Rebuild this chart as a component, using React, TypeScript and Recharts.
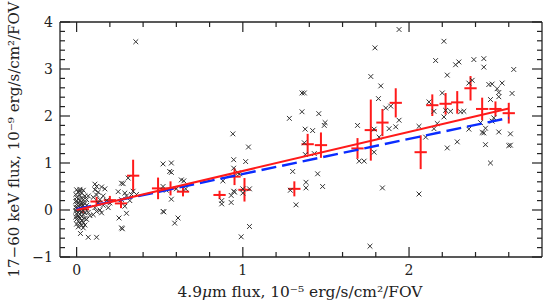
import { ScatterChart, Scatter, XAxis, YAxis, ErrorBar } from "recharts";

// individual fields (black crosses)
const fields: [number, number][] = [
  [0.0, 0.43], [0.02, 0.44], [0.04, 0.42], [0.01, 0.38], [0.03, 0.36], [-0.005, 0.33], [0.02, 0.31], [0.05, 0.3],
  [0.0, 0.27], [0.03, 0.26], [0.01, 0.23], [0.04, 0.22], [0.02, 0.2], [-0.005, 0.18], [0.03, 0.17], [0.01, 0.15],
  [0.05, 0.14], [0.0, 0.12], [0.02, 0.11], [0.04, 0.1], [0.01, 0.08], [0.03, 0.07], [-0.005, 0.06], [0.02, 0.05],
  [0.05, 0.04], [0.0, 0.03], [0.03, 0.02], [0.01, 0.01], [0.04, 0.0], [0.02, -0.01], [-0.005, -0.02], [0.03, -0.03],
  [0.01, -0.05], [0.05, -0.06], [0.0, -0.08], [0.02, -0.09], [0.04, -0.1], [0.01, -0.12], [0.03, -0.14], [-0.005, -0.15],
  [0.02, -0.17], [0.05, -0.18], [0.0, -0.2], [0.03, -0.22], [0.01, -0.24], [0.04, -0.26], [0.02, -0.28], [0.0, -0.3],
  [0.03, -0.33], [0.01, -0.36], [0.04, -0.38], [0.06, 0.22], [0.07, -0.05], [0.06, 0.1], [0.07, 0.3], [0.06, -0.2],
  [0.08, -0.12], [0.02, 0.4], [0.0, 0.2], [0.01, -0.16], [0.03, 0.12], [0.05, -0.32], [0.023, -0.5],
  [0.07, -0.58], [0.12, -0.58], [0.11, 0.55], [0.12, 0.5], [0.15, 0.49], [0.17, 0.45], [0.11, 0.43], [0.13, 0.38],
  [0.12, 0.32], [0.16, 0.3], [0.1, 0.27], [0.14, 0.22], [0.18, 0.2], [0.13, 0.15], [0.16, 0.1], [0.11, 0.05],
  [0.14, 0.0], [0.12, -0.03], [0.15, -0.06], [0.1, -0.1], [0.19, 0.05], [0.2, 0.15],
  [0.27, 0.57], [0.28, 0.56], [0.31, 0.68], [0.25, 0.39], [0.29, 0.36], [0.3, 0.3], [0.33, 0.33], [0.36, 0.33],
  [0.27, 0.22], [0.29, 0.08], [0.32, 0.2], [0.255, -0.17], [0.27, -0.38], [0.275, -0.4], [0.3, -0.07], [0.356, 3.58],
  [0.34, 0.4],
  [0.52, 0.98], [0.57, 1.0], [0.56, 0.82], [0.57, 0.8], [0.52, -0.03], [0.525, -0.04], [0.57, 0.23], [0.59, -0.28],
  [0.61, -0.17], [0.63, 0.64], [0.645, 0.62], [0.656, 0.45], [0.52, 0.5], [0.6, 0.45], [0.54, 0.42],
  [0.873, 0.2], [0.873, 0.13], [0.88, 0.62], [0.93, 0.31], [0.93, 0.16], [0.945, 0.4], [0.945, 0.89], [0.945, 1.07],
  [0.94, 1.62], [0.97, 0.79], [0.98, 0.77], [1.0, 0.36], [1.0, 0.45], [1.04, 0.45], [1.017, 1.03], [1.034, 1.34],
  [1.04, -0.35], [0.99, -0.57], [0.95, 0.38],
  [1.28, 1.95], [1.356, 2.49], [1.37, 2.49], [1.356, 2.09], [1.457, 2.05], [1.375, 1.72], [1.42, 1.69], [1.495, 1.86],
  [1.49, 1.8], [1.37, 1.43], [1.376, 1.18], [1.43, 1.2], [1.3, 0.82], [1.45, 0.77], [1.286, 0.42], [1.38, 0.59],
  [1.38, 0.47], [1.48, 0.5], [1.32, 0.11],
  [1.69, 1.8], [1.795, 3.45], [1.77, 2.84], [1.816, 2.37], [1.79, 1.72], [1.7, 1.04], [1.73, 1.04], [1.79, 1.23],
  [1.765, -0.77], [1.94, 3.84], [1.83, 2.64], [1.86, 2.17], [1.89, 2.21], [1.94, 1.91], [1.92, 1.77], [1.88, 1.73],
  [1.84, 0.47], [1.82, 1.55],
  [2.06, 0.34], [2.06, 1.78], [2.1, 1.55], [2.12, 2.3], [2.15, 2.1], [2.15, 1.73], [2.16, 3.18], [2.17, 1.84],
  [2.2, 2.49], [2.21, 3.59], [2.21, 1.98], [2.22, 2.12], [2.23, 2.87], [2.23, 1.32], [2.25, 2.1], [2.28, 3.09],
  [2.29, 1.45], [2.3, 3.15], [2.31, 2.09], [2.33, 2.1], [2.36, 2.7], [2.36, 1.72], [2.38, 2.76], [2.39, 3.2],
  [2.43, 1.86], [2.44, 1.65], [2.45, 3.22], [2.45, 3.04], [2.45, 1.64], [2.46, 1.39], [2.46, 1.74], [2.48, 2.67],
  [2.49, 2.35], [2.49, 1.0], [2.5, 2.68], [2.5, 1.89], [2.51, 1.96], [2.53, 2.58], [2.54, 2.5], [2.54, 2.41],
  [2.54, 1.66], [2.56, 2.7], [2.6, 1.37], [2.61, 1.62], [2.61, 1.38], [2.62, 2.48], [2.63, 2.99],
];

// binned averages (red crosses)
const binX = [0.0375, 0.12, 0.2, 0.267, 0.34, 0.49, 0.565, 0.64, 0.86, 0.95, 1.01, 1.31, 1.39, 1.47, 1.69, 1.77, 1.84, 1.92, 2.07, 2.14, 2.22, 2.29, 2.37, 2.44, 2.52, 2.6];
const binY = [0.014, 0.18, 0.21, 0.14, 0.73, 0.46, 0.46, 0.39, 0.32, 0.71, 0.43, 0.45, 1.4, 1.38, 1.31, 1.7, 1.86, 2.28, 1.23, 2.23, 2.26, 2.29, 2.59, 2.15, 2.15, 2.06];
const binYErr = [0.08, 0.1, 0.09, 0.1, 0.34, 0.23, 0.15, 0.1, 0.09, 0.18, 0.25, 0.16, 0.22, 0.27, 0.22, 0.65, 0.29, 0.31, 0.36, 0.23, 0.23, 0.24, 0.26, 0.24, 0.16, 0.22];
const binXErr = 0.037;

// fitted lines
const fitRed: [number, number][] = [[0, 0.0], [2.6, 2.16]];
const fitBlue: [number, number][] = [[0, 0.02], [2.6, 1.96]];

const xTicks = [0, 0.2, 0.4, 0.6, 0.8, 1, 1.2, 1.4, 1.6, 1.8, 2, 2.2, 2.4, 2.6];
const yTicks = [-1, -0.8, -0.6, -0.4, -0.2, 0, 0.2, 0.4, 0.6, 0.8, 1, 1.2, 1.4, 1.6, 1.8, 2, 2.2, 2.4, 2.6, 2.8, 3, 3.2, 3.4, 3.6, 3.8, 4];

const INK = "#222";
const FONT = "DejaVu Serif";

const fieldData = fields.map(([x, y]) => ({ x, y }));
const binData = binX.map((x, i) => ({ x, y: binY[i], ex: binXErr, ey: binYErr[i] }));
const redData = fitRed.map(([x, y]) => ({ x, y }));
const blueData = fitBlue.map(([x, y]) => ({ x, y }));

const fmt = (v: number) => (v < 0 ? "\u2212" + Math.abs(v) : String(v));

function XTick(p: any) {
  const major = Number.isInteger(p.payload.value);
  const len = major ? 10 : 5;
  return (
    <g>
      <line x1={p.x} x2={p.x} y1={p.y} y2={p.top ? p.y + len : p.y - len} stroke={INK} strokeWidth={1.2} />
      {!p.top && major && (
        <text x={p.x} y={p.y + 18} textAnchor="middle" fontFamily={FONT} fontSize={14} fill={INK}>
          {fmt(p.payload.value)}
        </text>
      )}
    </g>
  );
}

function YTick(p: any) {
  const major = Number.isInteger(p.payload.value);
  const len = major ? 10 : 5;
  return (
    <g>
      <line x1={p.x} x2={p.right ? p.x - len : p.x + len} y1={p.y} y2={p.y} stroke={INK} strokeWidth={1.2} />
      {!p.right && major && (
        <text x={p.x - 7} y={p.y} dy="0.36em" textAnchor="end" fontFamily={FONT} fontSize={14} fill={INK}>
          {fmt(p.payload.value)}
        </text>
      )}
    </g>
  );
}

function XTitle(p: any) {
  const vb = p.viewBox;
  return (
    <text x={vb.x + vb.width / 2 - 1} y={297} textAnchor="middle" fontFamily={FONT} fontSize={14} fill={INK}
      textLength={245} lengthAdjust="spacingAndGlyphs">
      4.9<tspan fontStyle="italic">μ</tspan>m flux, 10⁻⁵ erg/s/cm²/FOV
    </text>
  );
}

function YTitle(p: any) {
  const vb = p.viewBox;
  const cy = vb.y + vb.height / 2;
  return (
    <text x={19} y={cy} transform={`rotate(-90 19 ${cy})`} textAnchor="middle" fontFamily={FONT} fontSize={14}
      fill={INK} textLength={276} lengthAdjust="spacingAndGlyphs">
      17−60 keV flux, 10⁻⁹ erg/s/cm²/FOV
    </text>
  );
}

const cross = (p: any) => {
  const { cx, cy } = p;
  const s = 2.4;
  return (
    <path d={`M${cx - s},${cy - s}L${cx + s},${cy + s}M${cx - s},${cy + s}L${cx + s},${cy - s}`}
      stroke="#333" strokeWidth={1} fill="none" />
  );
};

const none = () => <g />;

export default function App() {
  return (
    <div style={{ position: "absolute", left: 0, top: 0, background: "#fff" }}>
      <ScatterChart width={543} height={301} margin={{ top: 21, right: 0, bottom: 0, left: 0 }}>
        <XAxis type="number" dataKey="x" domain={[-0.1, 2.8]} ticks={xTicks} interval={0} allowDataOverflow
          height={44} tickSize={0} tickMargin={0} tickLine={false}
          axisLine={{ stroke: INK, strokeWidth: 1.3 }} tick={(p: any) => <XTick {...p} />} label={<XTitle />} />
        <XAxis xAxisId="top" orientation="top" type="number" dataKey="x" domain={[-0.1, 2.8]} ticks={xTicks}
          interval={0} allowDataOverflow height={1} tickSize={0} tickMargin={0} tickLine={false}
          axisLine={{ stroke: INK, strokeWidth: 1.3 }} tick={(p: any) => <XTick {...p} top />} />
        <YAxis type="number" dataKey="y" domain={[-1, 4]} ticks={yTicks} interval={0} allowDataOverflow
          width={60} tickSize={0} tickMargin={0} tickLine={false}
          axisLine={{ stroke: INK, strokeWidth: 1.3 }} tick={(p: any) => <YTick {...p} />} label={<YTitle />} />
        <YAxis yAxisId="r" orientation="right" type="number" dataKey="y" domain={[-1, 4]} ticks={yTicks}
          interval={0} allowDataOverflow width={1} tickSize={0} tickMargin={0} tickLine={false}
          axisLine={{ stroke: INK, strokeWidth: 1.3 }} tick={(p: any) => <YTick {...p} right />} />
        <Scatter data={fieldData} shape={cross} isAnimationActive={false} />
        <Scatter data={blueData} shape={none} isAnimationActive={false}
          line={{ stroke: "#0a2cff", strokeWidth: 2.4, strokeDasharray: "15 6" }} />
        <Scatter data={redData} shape={none} isAnimationActive={false}
          line={{ stroke: "#ff1a1a", strokeWidth: 2 }} />
        <Scatter data={binData} shape={none} isAnimationActive={false}>
          <ErrorBar dataKey="ex" direction="x" width={0} stroke="#ff1a1a" strokeWidth={2} />
          <ErrorBar dataKey="ey" direction="y" width={0} stroke="#ff1a1a" strokeWidth={2} />
        </Scatter>
      </ScatterChart>
    </div>
  );
}
